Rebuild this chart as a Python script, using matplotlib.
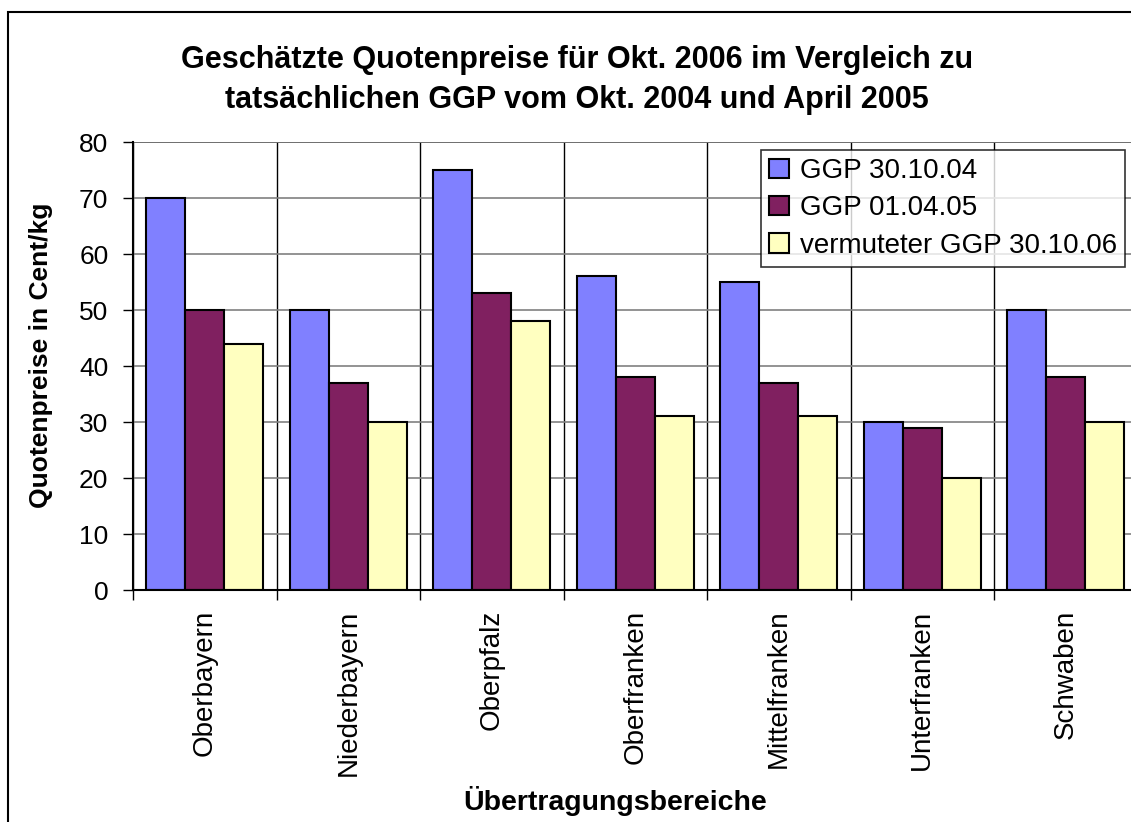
import numpy as np
import matplotlib
matplotlib.use("Agg")
import matplotlib.pyplot as plt
from matplotlib.patches import Rectangle

plt.rcParams['font.family'] = ['Liberation Sans', 'DejaVu Sans']

regions = ['Oberbayern', 'Niederbayern', 'Oberpfalz', 'Oberfranken',
           'Mittelfranken', 'Unterfranken', 'Schwaben']
ggp_2004 = [70, 50, 75, 56, 55, 30, 50]
ggp_2005 = [50, 37, 53, 38, 37, 29, 38]
ggp_2006 = [44, 30, 48, 31, 31, 20, 30]
series_names = ['GGP 30.10.04', 'GGP 01.04.05', 'vermuteter GGP 30.10.06']
series_colors = ['#8080FF', '#802060', '#FFFFC0']

fig = plt.figure(figsize=(11.31, 8.22), dpi=100)
ax = fig.add_axes([133/1131, 1-590/822, 1004.5/1131, 448/822])

x = np.arange(len(regions))
w = 0.272
for i, (vals, name, col) in enumerate(zip([ggp_2004, ggp_2005, ggp_2006], series_names, series_colors)):
    ax.bar(x + (i-1)*w, vals, width=w, color=col, edgecolor='black', linewidth=1.5,
           label=name, zorder=3)

ax.set_xlim(-0.5, len(regions)-0.5)
ax.set_ylim(0, 80)
ax.set_yticks(range(0, 81, 10))
ax.tick_params(axis='y', labelsize=19, length=7.2, width=1, direction='out', pad=10.5)
ax.set_xticks(x)
ax.set_xticklabels(regions, rotation=90, fontsize=20)
ax.tick_params(axis='x', length=0, pad=14)
# minor ticks at category boundaries
ax.set_xticks(np.arange(-0.5, len(regions), 1), minor=True)
ax.tick_params(axis='x', which='minor', length=7, width=1, direction='out')

ax.yaxis.grid(True, color='#808080', linewidth=1.2, zorder=0)
ax.xaxis.grid(True, which='minor', color='black', linewidth=1, zorder=0)
ax.axhline(80, color='black', linewidth=1.2, zorder=1)
for s in ['top', 'right']:
    ax.spines[s].set_visible(False)
ax.spines['left'].set_linewidth(1.5)
ax.spines['bottom'].set_linewidth(1.5)
ax.spines['left'].set_zorder(4)
ax.spines['bottom'].set_zorder(4)

ax.set_ylabel('Quotenpreise in Cent/kg', fontsize=19, fontweight='bold')
ax.set_xlabel('Übertragungsbereiche', fontsize=20.5, fontweight='bold')
ax.yaxis.set_label_coords((53-133)/1004.5, (590-355)/448)
ax.xaxis.set_label_coords((615-133)/1004.5, -(786-590)/448)

leg = ax.legend(loc='upper left', bbox_to_anchor=((761-133)/1004.5, 1-(150-142)/448),
                fontsize=20, frameon=True, fancybox=False, edgecolor='black',
                handlelength=0.7, handleheight=0.7, handletextpad=0.4,
                borderpad=0.3, labelspacing=0.4, borderaxespad=0)
leg.get_frame().set_linewidth(1.2)
leg.set_zorder(5)

fig.text(577/1131, 1-60/822, 'Geschätzte Quotenpreise für Okt. 2006 im Vergleich zu',
         ha='center', va='center', fontsize=22, fontweight='bold')
fig.text(577/1131, 1-100/822, 'tatsächlichen GGP vom Okt. 2004 und April 2005',
         ha='center', va='center', fontsize=22, fontweight='bold')

fig.patches.append(Rectangle((8/1131, -0.1), 1.2, 1-12/822+0.1, transform=fig.transFigure,
                             fill=False, edgecolor='black', linewidth=1.5))

fig.savefig('out.png', dpi=100)
